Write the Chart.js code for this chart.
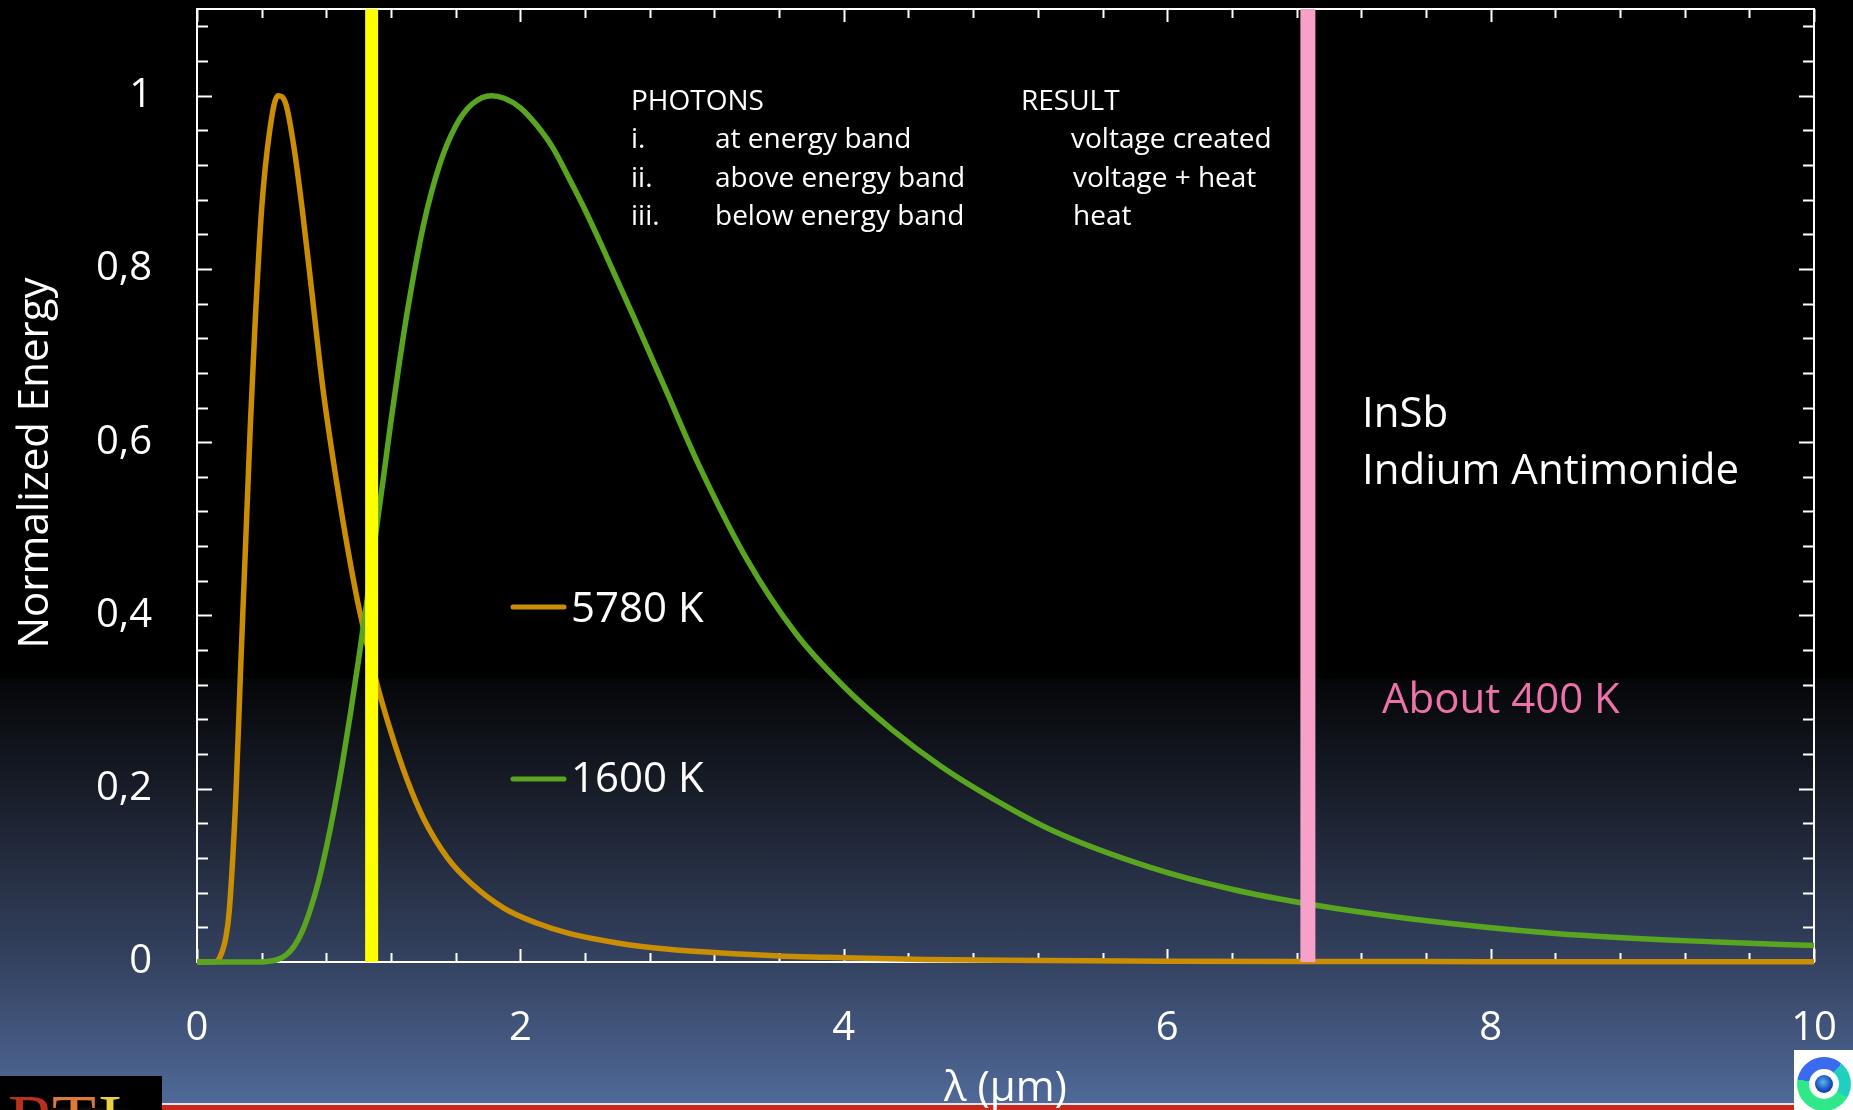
<!DOCTYPE html>
<html>
<head>
<meta charset="utf-8">
<script src="https://cdn.jsdelivr.net/npm/chart.js@4.4.1/dist/chart.umd.min.js"></script>
<style>
  html, body { margin: 0; padding: 0; }
  body {
    width: 1853px; height: 1110px; overflow: hidden; position: relative;
    background: linear-gradient(to bottom, #000 0px, #000 677px, #050608 679px, #1d2332 820px, #344260 962px, #516b9b 1110px);
  }
  #wrap { position: absolute; left: 0; top: 0; width: 1853px; height: 1110px; }
  .redline { position: absolute; left: 162px; top: 1103px; width: 1632px; height: 7px;
    background: linear-gradient(#dfe4ee 0 2px, #c8281a 2px 7px); }
  .logo-left { position: absolute; left: 0; top: 1076px; width: 162px; height: 34px; overflow: hidden;
    background: radial-gradient(ellipse 120px 30px at 80px 60px, #888 0, #333 60%, #000 100%); }
  .logo-left span { position: absolute; top: 8px; font: 72px "Liberation Serif", serif; line-height: 1; }
  .logo-right { position: absolute; left: 1794px; top: 1050px; width: 59px; height: 60px; background: #fff; overflow: hidden; }
  .logo-right .ring { position: absolute; left: 3px; top: 7px; width: 54px; height: 54px; border-radius: 50%;
    background: conic-gradient(from -20deg, #3a6af0 0 60deg, #1fd0c0 60deg 140deg, #2ee88a 140deg 300deg, #3a6af0 300deg); }
  .logo-right .eye { position: absolute; left: 15px; top: 19px; width: 30px; height: 30px; border-radius: 50%; background: #fff; }
  .logo-right .eye::after { content: ""; position: absolute; left: 6px; top: 6px; width: 18px; height: 18px; border-radius: 50%;
    background: radial-gradient(circle at 45% 40%, #5ab8e8 0, #1a4cc0 55%, #0a2a90 100%); }
</style>
</head>
<body>
<div class="redline"></div>
<div class="logo-left">
  <span style="left:8px;color:#b8301e">R</span>
  <span style="left:52px;color:#e07a38">T</span>
  <span style="left:98px;color:#e8d040">I</span>
</div>
<div class="logo-right"><div class="ring"></div><div class="eye"></div></div>
<div id="wrap"><canvas id="chart"></canvas></div>
<script>
// values (wavelength in µm, normalized energy)
const wavelengths5780 = [0, 0.1, 0.14, 0.18, 0.2, 0.24, 0.27, 0.3, 0.33, 0.36, 0.4, 0.45, 0.5, 0.55, 0.6, 0.65, 0.7, 0.78, 0.85, 0.92, 1.0, 1.1, 1.2, 1.3, 1.4, 1.55, 1.7, 1.9, 2.1, 2.3, 2.6, 2.9, 3.2, 3.6, 4.0, 4.5, 5, 6, 7, 8, 10];
const energy5780 = [0, 0, 0.005, 0.03, 0.06, 0.19, 0.34, 0.48, 0.62, 0.74, 0.87, 0.96, 1.0, 0.99, 0.94, 0.87, 0.79, 0.66, 0.57, 0.49, 0.41, 0.33, 0.265, 0.21, 0.166, 0.12, 0.09, 0.062, 0.045, 0.033, 0.022, 0.015, 0.011, 0.007, 0.005, 0.003, 0.002, 0.001, 0.0006, 0.0004, 0.0002];

const wavelengths1600 = [0, 0.4, 0.45, 0.5, 0.55, 0.6, 0.65, 0.7, 0.75, 0.8, 0.85, 0.9, 0.95, 1.0, 1.05, 1.1, 1.15, 1.2, 1.25, 1.3, 1.4, 1.5, 1.6, 1.7, 1.82, 1.9, 2.0, 2.1, 2.2, 2.3, 2.4, 2.5, 2.7, 2.9, 3.1, 3.4, 3.7, 4.0, 4.3, 4.6, 4.9, 5.3, 5.9, 6.4, 6.9, 7.5, 8.4, 9.4, 10];
const energy1600 = [0, 0, 0.001, 0.003, 0.008, 0.018, 0.035, 0.06, 0.092, 0.132, 0.178, 0.23, 0.288, 0.35, 0.415, 0.487, 0.555, 0.625, 0.69, 0.75, 0.85, 0.92, 0.965, 0.99, 1.0, 0.997, 0.986, 0.966, 0.94, 0.905, 0.868, 0.828, 0.745, 0.66, 0.575, 0.465, 0.38, 0.318, 0.268, 0.226, 0.191, 0.151, 0.109, 0.084, 0.066, 0.05, 0.033, 0.023, 0.019];

const seriesNames = ['5780 K', '1600 K'];
const seriesColors = ['#c98e04', '#5aa520'];

// band edges: silicon (yellow) and InSb (pink)
const bandEdges = [1.08, 6.87];
const bandColors = ['#ffff00', '#f7a1c9'];

const xTickValues = [0, 2, 4, 6, 8, 10];
const xTickLabels = ['0', '2', '4', '6', '8', '10'];
const yTickValues = [0, 0.2, 0.4, 0.6, 0.8, 1];
const yTickLabels = ['0', '0,2', '0,4', '0,6', '0,8', '1'];

const tableHead = ['PHOTONS', 'RESULT'];
const tableNums = ['i.', 'ii.', 'iii.'];
const tableCases = ['at energy band', 'above energy band', 'below energy band'];
const tableResults = ['voltage created', 'voltage + heat', 'heat'];

const FONT = '"Open Sans", "Noto Sans", sans-serif';

const toPoints = (xs, ys) => xs.map((x, i) => ({ x: x, y: ys[i] }));

// frame with inward ticks on all four sides
const frameTicks = {
  id: 'frameTicks',
  beforeDatasetsDraw(chart) {
    const { ctx, chartArea: a, scales: { x, y } } = chart;
    ctx.save();
    ctx.strokeStyle = '#ffffff';
    ctx.lineWidth = 2;
    ctx.strokeRect(a.left, a.top, a.right - a.left, a.bottom - a.top);
    ctx.beginPath();
    for (let i = 0; i <= 25; i++) {
      const px = Math.round(x.getPixelForValue(i * 0.4)) + 0.5;
      const len = i % 5 === 0 ? 13 : 9;
      ctx.moveTo(px, a.bottom); ctx.lineTo(px, a.bottom - len);
      ctx.moveTo(px, a.top); ctx.lineTo(px, a.top + len);
    }
    for (let i = 0; i <= 27; i++) {
      const py = Math.round(y.getPixelForValue(i * 0.04)) + 0.5;
      const len = i % 5 === 0 ? 15 : 11;
      ctx.moveTo(a.left, py); ctx.lineTo(a.left + len, py);
      ctx.moveTo(a.right, py); ctx.lineTo(a.right - len, py);
    }
    ctx.stroke();
    ctx.restore();
  },
  afterDatasetsDraw(chart) {
    const { ctx } = chart;
    ctx.save();
    ctx.fillStyle = '#ffffff';
    ctx.textAlign = 'left';
    ctx.textBaseline = 'alphabetic';

    // photon table
    ctx.font = '28px ' + FONT;
    ctx.fillText(tableHead[0], 631, 110);
    ctx.fillText(tableHead[1], 1021, 110);
    const rowY = [148, 187, 225];
    const resX = [1071, 1073, 1073];
    tableNums.forEach((t, i) => {
      ctx.fillText(t, 631, rowY[i]);
      ctx.fillText(tableCases[i], 715, rowY[i]);
      ctx.fillText(tableResults[i], resX[i], rowY[i]);
    });

    // material note
    ctx.font = '42px ' + FONT;
    ctx.fillText('InSb', 1362, 427);
    ctx.fillText('Indium Antimonide', 1362, 484);
    ctx.fillStyle = '#ee72aa';
    ctx.fillText('About 400 K', 1382, 713);

    // legend keys
    const keyY = [607, 779];
    const keyText = [622, 792];
    ctx.lineCap = 'round';
    ctx.lineWidth = 5;
    seriesNames.forEach((name, i) => {
      ctx.strokeStyle = seriesColors[i];
      ctx.beginPath();
      ctx.moveTo(513, keyY[i]); ctx.lineTo(564, keyY[i]);
      ctx.stroke();
      ctx.fillStyle = '#ffffff';
      ctx.fillText(name, 571, keyText[i]);
    });

    // y axis title
    ctx.translate(48, 463);
    ctx.rotate(-Math.PI / 2);
    ctx.textAlign = 'center';
    ctx.fillText('Normalized Energy', 0, 0);
    ctx.restore();
  }
};

const zeroPadding = (s) => {
  s.paddingTop = 0; s.paddingBottom = 0; s.paddingLeft = 0; s.paddingRight = 0;
};

new Chart(document.getElementById('chart'), {
  type: 'line',
  data: {
    datasets: [
      {
        label: 'Si',
        data: [{ x: bandEdges[0], y: 0 }, { x: bandEdges[0], y: 1.1 }],
        borderColor: bandColors[0],
        borderWidth: 13,
        borderCapStyle: 'butt',
        order: 0
      },
      {
        label: 'InSb',
        data: [{ x: bandEdges[1], y: 0 }, { x: bandEdges[1], y: 1.1 }],
        borderColor: bandColors[1],
        borderWidth: 15,
        borderCapStyle: 'butt',
        order: 0
      },
      {
        label: seriesNames[1],
        data: toPoints(wavelengths1600, energy1600),
        borderColor: seriesColors[1],
        borderWidth: 5.5,
        cubicInterpolationMode: 'monotone',
        clip: 6,
        order: 1
      },
      {
        label: seriesNames[0],
        data: toPoints(wavelengths5780, energy5780),
        borderColor: seriesColors[0],
        borderWidth: 5.5,
        cubicInterpolationMode: 'monotone',
        clip: 6,
        order: 2
      }
    ]
  },
  options: {
    responsive: true,
    maintainAspectRatio: false,
    animation: false,
    parsing: false,
    elements: { point: { radius: 0, hoverRadius: 0 } },
    layout: { padding: { top: 9, right: 39, left: 0, bottom: 0 } },
    plugins: {
      legend: { display: false },
      tooltip: { enabled: false }
    },
    scales: {
      x: {
        type: 'linear',
        min: 0,
        max: 10,
        grid: { display: false },
        border: { display: false },
        afterBuildTicks: (s) => { s.ticks = xTickValues.map(v => ({ value: v })); },
        afterFit: (s) => { s.height = 148; zeroPadding(s); },
        ticks: {
          color: '#ffffff',
          font: { family: FONT, size: 40 },
          padding: 35,
          maxRotation: 0,
          autoSkip: false,
          callback: (v, i) => xTickLabels[i]
        },
        title: {
          display: true,
          text: 'λ (μm)',
          color: '#ffffff',
          font: { family: FONT, size: 42 },
          padding: { top: 0, bottom: -4 }
        }
      },
      y: {
        type: 'linear',
        min: 0,
        max: 1.1,
        grid: { display: false },
        border: { display: false },
        afterBuildTicks: (s) => { s.ticks = yTickValues.map(v => ({ value: v })); },
        afterFit: (s) => { s.width = 197; zeroPadding(s); },
        ticks: {
          color: '#ffffff',
          font: { family: FONT, size: 40 },
          padding: 37,
          autoSkip: false,
          callback: (v, i) => yTickLabels[i]
        }
      }
    }
  },
  plugins: [frameTicks]
});
</script>
</body>
</html>
